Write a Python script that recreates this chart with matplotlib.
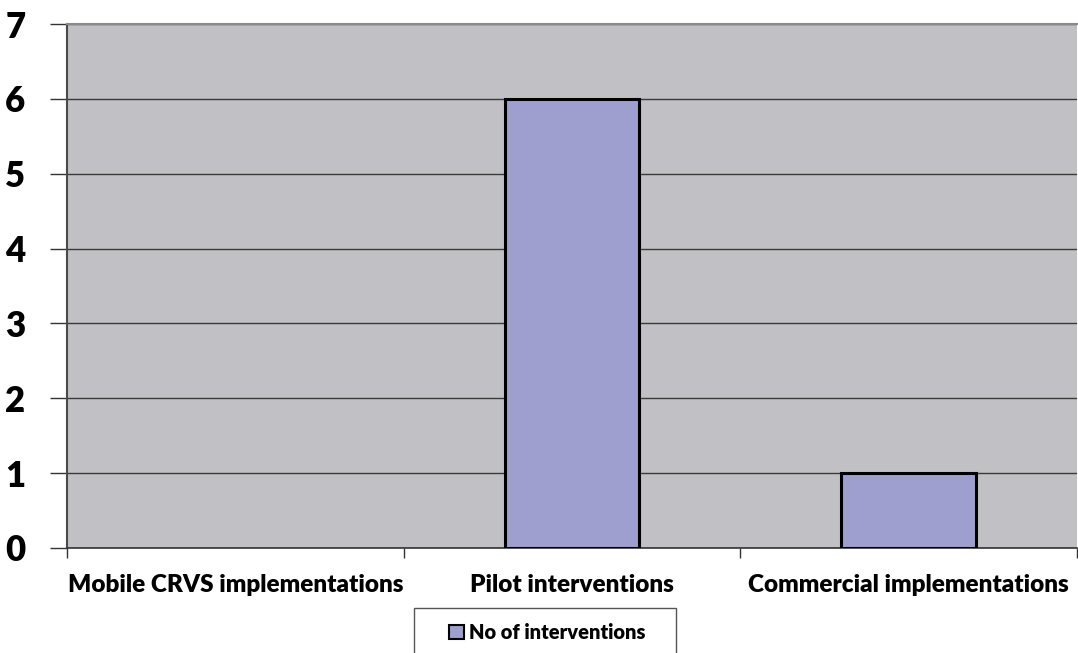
import numpy as np
import matplotlib.pyplot as plt
from matplotlib.patches import Patch, Rectangle

categories = ['Mobile CRVS implementations', 'Pilot interventions', 'Commercial implementations']
interventions = [0, 6, 1]
series_name = 'No of interventions'

plt.rcParams['font.family'] = ['Lato', 'DejaVu Sans']
plt.rcParams['font.weight'] = 'heavy'

fig = plt.figure(figsize=(10.78, 6.53), dpi=100, facecolor='white')
ax = fig.add_axes([0.0622, 0.1608, 0.9369, 0.8024])
ax.set_facecolor('#c1c1c5')

x = np.arange(len(categories))
edges = ['black' if v > 0 else 'none' for v in interventions]
ax.bar(x, interventions, width=0.4, color='#9e9fcf', edgecolor=edges,
       linewidth=2.2, zorder=3)

ax.set_xlim(-0.5, len(categories) - 0.5)
ax.set_ylim(0, 7)
ax.set_yticks(range(0, 8))
ax.yaxis.grid(True, color='#3a3a3a', linewidth=1.0, zorder=1)
ax.set_axisbelow(True)

# category labels sit between the boundary ticks
ax.set_xticks(np.arange(-0.5, len(categories)))
ax.set_xticklabels([])
ax.set_xticks(x, minor=True)
ax.set_xticklabels(categories, minor=True, fontsize=17.5, fontweight='heavy')
ax.tick_params(axis='x', which='minor', length=0, pad=19)
ax.tick_params(axis='x', which='major', length=7, width=1, color='#333333', direction='out')
ax.tick_params(axis='y', labelsize=25, length=12, width=1, color='#333333', pad=18)
for lbl in ax.get_yticklabels():
    lbl.set_fontweight('heavy')

ax.spines['left'].set_color('#4a4a4a')
ax.spines['left'].set_linewidth(1.5)
ax.spines['bottom'].set_color('#333333')
ax.spines['bottom'].set_linewidth(1.2)
ax.spines['top'].set_color('#8a8a8a')
ax.spines['top'].set_linewidth(1.5)
ax.spines['right'].set_visible(False)

# legend box runs off the bottom edge, with wide side margins
handle = Patch(facecolor='#9e9fcf', edgecolor='black', linewidth=1.5)
fig.legend([handle], [series_name], loc='upper center',
           bbox_to_anchor=(0.508, 0.069), frameon=False,
           handlelength=0.75, handleheight=0.75, handletextpad=0.25,
           borderpad=0.75, borderaxespad=0,
           prop={'size': 14.5, 'weight': 'heavy'})
fig.patches.append(Rectangle((0.384, -0.02), 0.243, 0.089, transform=fig.transFigure,
                             facecolor='none', edgecolor='#555555', linewidth=1.0))

fig.savefig('out.png', dpi=100)
